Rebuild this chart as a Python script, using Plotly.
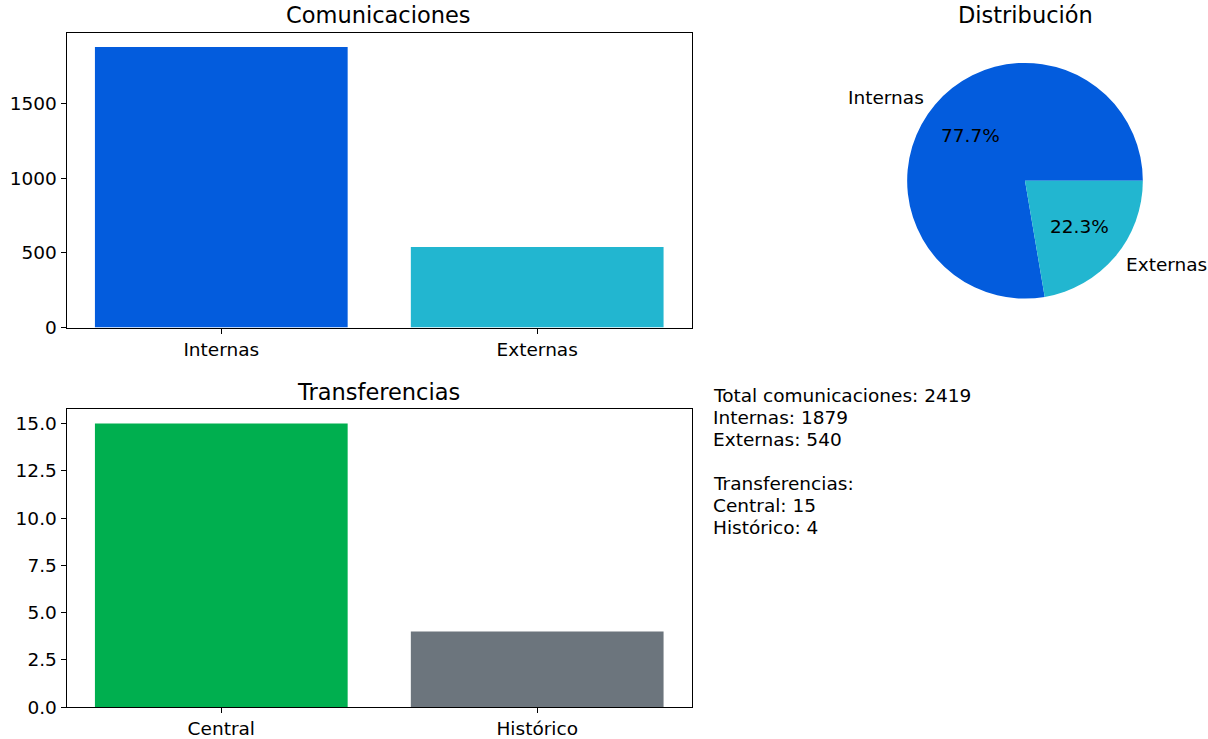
import math
import plotly.graph_objects as go

# ---- data ----
com_categories = ["Internas", "Externas"]
com_values = [1879, 540]
com_colors = ["#035cdd", "#22b6d0"]

trans_categories = ["Central", "Histórico"]
trans_values = [15, 4]
trans_colors = ["#00af4f", "#6c757d"]

com_ticks = [0, 500, 1000, 1500]
trans_ticks = [0, 2.5, 5, 7.5, 10, 12.5, 15]

W, H = 1208, 739
H_EFF = 729  # observed effective drawing height
FONT = "DejaVu Sans"
TICK_SIZE = 18.5
TITLE_SIZE = 22.5


def px_x(p):
    return p / W


def px_y(p):
    return 1 - p / H_EFF


fig = go.Figure()

fig.add_trace(go.Bar(x=[0, 1], y=com_values, width=0.8, marker=dict(color=com_colors, line=dict(width=0)),
                     xaxis="x", yaxis="y", showlegend=False))
fig.add_trace(go.Bar(x=[0, 1], y=trans_values, width=0.8, marker=dict(color=trans_colors, line=dict(width=0)),
                     xaxis="x2", yaxis="y2", showlegend=False))

total = sum(com_values)
# pie geometry (pixels); first slice starts at 3 o'clock going counter-clockwise (matplotlib default)
cx, cy, r = 1025, 181, 118
rotation = 90 - 360 * com_values[0] / total
fig.add_trace(go.Pie(values=com_values, labels=com_categories, marker=dict(colors=com_colors, line=dict(width=0)),
                     sort=False, direction="clockwise", rotation=rotation, textinfo="none",
                     domain=dict(x=[px_x(cx - r), px_x(cx + r)], y=[px_y(cy + r), px_y(cy - r)]),
                     showlegend=False, hoverinfo="skip"))

axis_common = dict(showline=True, linecolor="black", linewidth=1, mirror=True, ticks="outside",
                   ticklen=5, tickcolor="black", showgrid=False, zeroline=False,
                   tickfont=dict(family=FONT, size=TICK_SIZE, color="black"))

AX_L, AX_R = 66.5, 692

fig.update_layout(
    width=W, height=H, autosize=False, margin=dict(l=0, r=0, t=0, b=0, pad=0),
    paper_bgcolor="white", plot_bgcolor="white",
    font=dict(family=FONT, color="black"),
    xaxis=dict(domain=[px_x(AX_L), px_x(AX_R)], range=[-0.49, 1.49], tickvals=[0, 1], ticktext=com_categories,
               anchor="y", **axis_common),
    yaxis=dict(domain=[px_y(328), px_y(33)], range=[0, max(com_values) * 1.05], tickvals=com_ticks,
               anchor="x", **axis_common),
    xaxis2=dict(domain=[px_x(AX_L), px_x(AX_R)], range=[-0.49, 1.49], tickvals=[0, 1], ticktext=trans_categories,
                anchor="y2", **axis_common),
    yaxis2=dict(domain=[px_y(708), px_y(410)], range=[0, max(trans_values) * 1.05], tickvals=trans_ticks,
                tickformat=".1f", anchor="x2", **axis_common),
)

ann = []
# titles
ann.append(dict(text="Comunicaciones", x=px_x(378.5), y=px_y(15), xref="paper", yref="paper",
                showarrow=False, font=dict(size=TITLE_SIZE), xanchor="center", yanchor="middle"))
ann.append(dict(text="Transferencias", x=px_x(378.5), y=px_y(393), xref="paper", yref="paper",
                showarrow=False, font=dict(size=TITLE_SIZE), xanchor="center", yanchor="middle"))
ann.append(dict(text="Distribución", x=px_x(cx), y=px_y(15), xref="paper", yref="paper",
                showarrow=False, font=dict(size=TITLE_SIZE), xanchor="center", yanchor="middle"))

# pie labels computed from data (matplotlib style: labels at 1.1 r, pct at 0.6 r)
start = 0.0
for lab, v in zip(com_categories, com_values):
    frac = v / total
    mid = math.radians(start + frac * 360 / 2)
    start += frac * 360
    lx = cx + 1.1 * r * math.cos(mid)
    ly = cy - 1.1 * r * math.sin(mid)
    ann.append(dict(text=lab, x=px_x(lx), y=px_y(ly), xref="paper", yref="paper", showarrow=False,
                    font=dict(size=TICK_SIZE), xanchor="left" if math.cos(mid) > 0 else "right",
                    yanchor="middle"))
    tx = cx + 0.6 * r * math.cos(mid)
    ty = cy - 0.6 * r * math.sin(mid)
    ann.append(dict(text=f"{frac * 100:.1f}%", x=px_x(tx), y=px_y(ty), xref="paper", yref="paper",
                    showarrow=False, font=dict(size=TICK_SIZE), xanchor="center", yanchor="middle"))

# summary text
lines = [
    f"Total comunicaciones: {total}",
    f"Internas: {com_values[0]}",
    f"Externas: {com_values[1]}",
    "",
    "Transferencias:",
    f"Central: {trans_values[0]}",
    f"Histórico: {trans_values[1]}",
]
for i, line in enumerate(lines):
    if not line:
        continue
    ann.append(dict(text=line, x=px_x(711), y=px_y(396.5 + 22 * i), xref="paper", yref="paper",
                    showarrow=False, font=dict(size=TICK_SIZE), xanchor="left", yanchor="middle"))

fig.update_layout(annotations=ann)
fig.write_html("out.html", config={"displayModeBar": False, "responsive": False},
               post_script="document.body.style.margin='0';")
